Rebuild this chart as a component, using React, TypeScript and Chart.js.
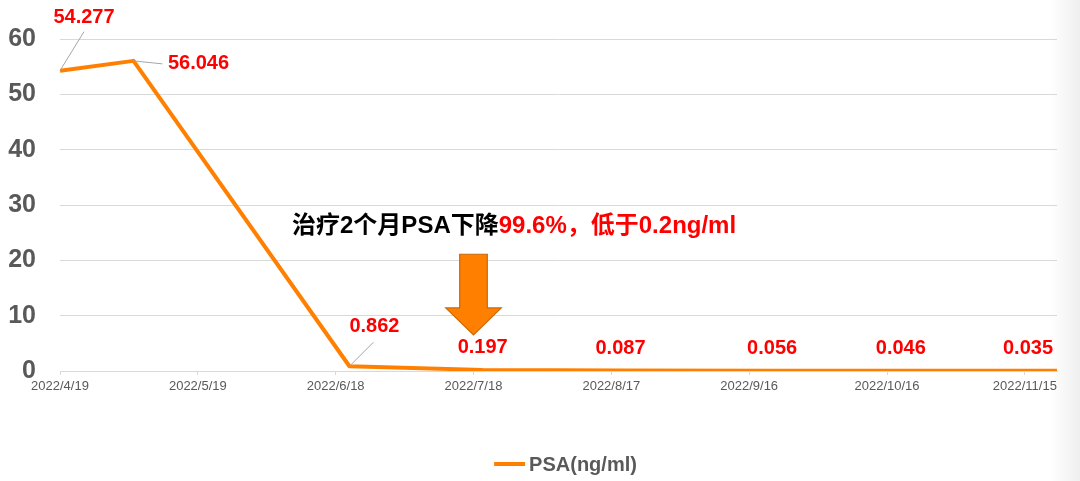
import React, { useEffect, useRef } from 'react';
import { Chart, registerables } from 'chart.js';

Chart.register(...registerables);

// Measurement dates and PSA results (ng/ml)
const sampleDates = ['2022/4/19', '2022/5/5', '2022/6/21', '2022/7/20', '2022/8/19', '2022/9/21', '2022/10/19', '2022/11/22'];
const psaValues = [54.277, 56.046, 0.862, 0.197, 0.087, 0.056, 0.046, 0.035];

// Date axis ticks, one every 30 days
const tickLabels = ['2022/4/19', '2022/5/19', '2022/6/18', '2022/7/18', '2022/8/17', '2022/9/16', '2022/10/16', '2022/11/15'];
const yTickValues = [0, 10, 20, 30, 40, 50, 60];

const seriesLabel = 'PSA(ng/ml)';
const noteBlack = '治疗2个月PSA下降';
const noteRed = '99.6%，低于0.2ng/ml';

const DAY_MS = 86400000;
const toUTC = (s: string) => {
  const [y, m, d] = s.split('/').map(Number);
  return Date.UTC(y, m - 1, d);
};
const originMs = toUTC(tickLabels[0]);
const dayOf = (s: string) => Math.round((toUTC(s) - originMs) / DAY_MS);
const tickDays = tickLabels.map(dayOf);

const LINE_COLOR = '#FF8000';
const LABEL_COLOR = '#FF0000';
const AXIS_TEXT = '#595959';
const GRID = '#D9D9D9';
const FONT = '"Liberation Sans", Arial, "Noto Sans CJK SC", sans-serif';

// Label placement relative to each point (px); leader = end of the leader line relative to label centre
type Placement = { dx: number; dy: number; leader?: [number, number] };
const labelPlacement: Placement[] = [
  { dx: 24, dy: -53, leader: [0, 14] },
  { dx: 65, dy: 3, leader: [-36, 0] },
  { dx: 25, dy: -40, leader: [-1, 16] },
];
const defaultPlacement: Placement = { dx: 0, dy: -22 };

// Callout arrow, in axis units (day index / PSA value)
const arrowSpec = { day: 90, top: 21.1, neck: 11.4, tip: 6.5, shaftHalf: 13.8, headHalf: 27.8 };
const noteSpec = { day: 50.5, value: 26.2 };

const decorPlugin = {
  id: 'psaDecor',
  afterDatasetsDraw(chart: any) {
    const { ctx, chartArea } = chart;
    const xs = chart.scales.x;
    const ys = chart.scales.y;
    const meta = chart.getDatasetMeta(0);

    // arrow
    const ax = xs.getPixelForValue(arrowSpec.day);
    const yTop = ys.getPixelForValue(arrowSpec.top);
    const yNeck = ys.getPixelForValue(arrowSpec.neck);
    const yTip = ys.getPixelForValue(arrowSpec.tip);
    ctx.save();
    ctx.beginPath();
    ctx.moveTo(ax - arrowSpec.shaftHalf, yTop);
    ctx.lineTo(ax + arrowSpec.shaftHalf, yTop);
    ctx.lineTo(ax + arrowSpec.shaftHalf, yNeck);
    ctx.lineTo(ax + arrowSpec.headHalf, yNeck);
    ctx.lineTo(ax, yTip);
    ctx.lineTo(ax - arrowSpec.headHalf, yNeck);
    ctx.lineTo(ax - arrowSpec.shaftHalf, yNeck);
    ctx.closePath();
    ctx.fillStyle = '#FF8000';
    ctx.fill();
    ctx.lineWidth = 1.2;
    ctx.strokeStyle = '#C8690A';
    ctx.stroke();
    ctx.restore();

    // note text
    ctx.save();
    ctx.font = `bold 24px ${FONT}`;
    ctx.textBaseline = 'middle';
    ctx.textAlign = 'left';
    const nx = xs.getPixelForValue(noteSpec.day);
    const ny = ys.getPixelForValue(noteSpec.value);
    ctx.fillStyle = '#000000';
    ctx.fillText(noteBlack, nx, ny);
    const w = ctx.measureText(noteBlack).width;
    ctx.fillStyle = LABEL_COLOR;
    ctx.fillText(noteRed, nx + w, ny);
    ctx.restore();

    // value labels with leader lines
    ctx.save();
    ctx.font = `bold 20px ${FONT}`;
    ctx.textBaseline = 'middle';
    ctx.textAlign = 'center';
    meta.data.forEach((pt: any, i: number) => {
      const text = psaValues[i].toFixed(3);
      const p = labelPlacement[i] || defaultPlacement;
      const tw = ctx.measureText(text).width;
      let cx = pt.x + p.dx;
      cx = Math.min(cx, chartArea.right - 4 - tw / 2);
      const cy = pt.y + p.dy;
      if (p.leader) {
        ctx.beginPath();
        ctx.moveTo(pt.x, pt.y);
        ctx.lineTo(cx + p.leader[0], cy + p.leader[1]);
        ctx.strokeStyle = '#A6A6A6';
        ctx.lineWidth = 1;
        ctx.stroke();
      }
      ctx.fillStyle = LABEL_COLOR;
      ctx.fillText(text, cx, cy);
    });
    ctx.restore();
  },
  afterDraw(chart: any) {
    // legend: line sample + series name, centred under the plot
    const { ctx, chartArea } = chart;
    const ds = chart.data.datasets[0];
    ctx.save();
    ctx.font = `bold 20px ${FONT}`;
    const tw = ctx.measureText(ds.label).width;
    const sample = 31;
    const gap = 4;
    const total = sample + gap + tw;
    const cx = (chartArea.left + chartArea.right) / 2 + 7;
    const x0 = cx - total / 2;
    const y = 464;
    ctx.strokeStyle = ds.borderColor;
    ctx.lineWidth = 4;
    ctx.beginPath();
    ctx.moveTo(x0, y);
    ctx.lineTo(x0 + sample, y);
    ctx.stroke();
    ctx.fillStyle = AXIS_TEXT;
    ctx.textBaseline = 'middle';
    ctx.textAlign = 'left';
    ctx.fillText(ds.label, x0 + sample + gap, y + 1);
    ctx.restore();
  },
};

export default function App() {
  const canvasRef = useRef<HTMLCanvasElement | null>(null);

  useEffect(() => {
    const canvas = canvasRef.current;
    if (!canvas) return;
    const chart = new Chart(canvas, {
      type: 'line',
      data: {
        datasets: [
          {
            label: seriesLabel,
            data: sampleDates.map((d, i) => ({ x: dayOf(d), y: psaValues[i] })),
            borderColor: LINE_COLOR,
            backgroundColor: LINE_COLOR,
            borderWidth: 4,
            pointRadius: 0,
            tension: 0,
            borderCapStyle: 'butt',
            borderJoinStyle: 'round',
          },
        ],
      },
      options: {
        responsive: false,
        animation: false,
        layout: { padding: { left: 0, right: 23, top: 36, bottom: 80 } },
        plugins: {
          legend: { display: false },
          tooltip: { enabled: false },
        },
        scales: {
          x: {
            type: 'linear',
            min: 0,
            max: dayOf(sampleDates[sampleDates.length - 1]),
            afterBuildTicks: (scale: any) => {
              scale.ticks = tickDays.map((v) => ({ value: v }));
            },
            afterFit: (scale: any) => {
              scale.height = 30;
            },
            ticks: {
              autoSkip: false,
              maxRotation: 0,
              padding: 4,
              color: AXIS_TEXT,
              font: { family: FONT, size: 13 },
              callback: (v: any) => {
                const idx = tickDays.indexOf(Number(v));
                return idx >= 0 ? tickLabels[idx] : '';
              },
            },
            grid: {
              drawOnChartArea: false,
              drawTicks: true,
              tickLength: 4,
              color: GRID,
            },
            border: { display: true, color: GRID, width: 1 },
          },
          y: {
            min: 0,
            max: 60,
            afterBuildTicks: (scale: any) => {
              scale.ticks = yTickValues.map((v) => ({ value: v }));
            },
            afterFit: (scale: any) => {
              scale.width = 60;
            },
            ticks: {
              padding: 24,
              color: AXIS_TEXT,
              font: { family: FONT, size: 25, weight: 'bold' },
            },
            grid: { color: GRID, drawTicks: false, lineWidth: 1 },
            border: { display: false },
          },
        },
      },
      plugins: [decorPlugin],
    } as any);
    return () => chart.destroy();
  }, []);

  return (
    <div
      style={{
        position: 'fixed',
        left: 0,
        top: 0,
        width: 1080,
        height: 481,
        background: 'linear-gradient(to right, #ffffff 0px, #ffffff 1050px, #efefef 1080px)',
      }}
    >
      <canvas ref={canvasRef} width={1080} height={481} style={{ display: 'block' }} />
    </div>
  );
}
